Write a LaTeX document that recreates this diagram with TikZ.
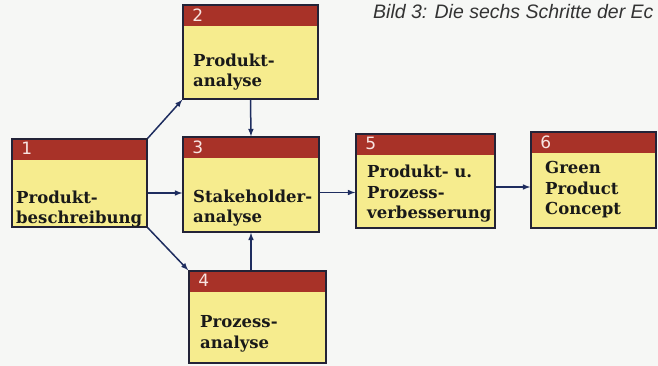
\documentclass[tikz,border=0pt]{standalone}
\usepackage{fontspec}
\setmainfont{DejaVu Serif}
\newfontfamily\numfont{DejaVu Sans}
\newfontfamily\capfont{Liberation Sans}
\usetikzlibrary{calc}
\tikzset{>=latex}
\definecolor{Paper}{RGB}{246,247,245}
\definecolor{HeadRed}{RGB}{168,50,40}
\definecolor{BoxBody}{RGB}{246,236,142}
\definecolor{BoxLine}{RGB}{35,35,55}
\definecolor{FlowBlue}{RGB}{30,45,95}
\definecolor{NumWhite}{RGB}{248,228,225}
\tikzset{
  stepbox/.style={draw=BoxLine, line width=1.5pt, fill=BoxBody, inner sep=0pt,
    path picture={\fill[HeadRed] (path picture bounding box.north west) rectangle ([yshift=-21pt]path picture bounding box.north east);}},
  numlabel/.style={anchor=north west, inner sep=0pt, text=NumWhite, font=\numfont\fontsize{17}{17}\selectfont, xshift=10pt, yshift=-4pt},
  steptext/.style={anchor=west, align=left, inner sep=0pt, text=black!90, font=\bfseries\fontsize{16.5}{20.5}\selectfont},
  flow/.style={->, draw=FlowBlue, line width=1.5pt}
}
\begin{document}
\begin{tikzpicture}[x=1pt,y=-1pt]
  \fill[Paper] (0,0) rectangle (658,366);
  \useasboundingbox (0,0) rectangle (658,366);
  % caption
  \node[anchor=base west, inner sep=0pt, text=black!80, font=\capfont\itshape\fontsize{19.5}{19.5}\selectfont] (cap) at (373,19) {Bild 3: Die sechs Schritte der Ec};
  % boxes
  \node[stepbox, minimum width=135pt, minimum height=88pt, label={[numlabel]north west:1}] (b1) at (79.5,183) {};
  \node[stepbox, minimum width=135pt, minimum height=94pt, label={[numlabel]north west:2}] (b2) at (250.5,52) {};
  \node[stepbox, minimum width=136pt, minimum height=95pt, label={[numlabel]north west:3}] (b3) at (251,184.5) {};
  \node[stepbox, minimum width=137pt, minimum height=92pt, label={[numlabel]north west:4}] (b4) at (257.5,317) {};
  \node[stepbox, minimum width=139pt, minimum height=94pt, label={[numlabel]north west:5}] (b5) at (425.5,181) {};
  \node[stepbox, minimum width=125pt, minimum height=96pt, label={[numlabel]north west:6}] (b6) at (593.5,180) {};
  % texts
  \node[steptext] (t1) at (16,209) {Produkt-\\beschreibung};
  \node[steptext] (t2) at (193,72) {Produkt-\\analyse};
  \node[steptext] (t3) at (193,208) {Stakeholder-\\analyse};
  \node[steptext] (t4) at (200,334) {Prozess-\\analyse};
  \node[steptext] (t5) at (367,194) {Produkt- u.\\Prozess-\\verbesserung};
  \node[steptext] (t6) at (545,190) {Green\\Product\\Concept};
  % arrows
  \draw[flow] (b1.north east) -- (b2.south west);
  \draw[flow] ([yshift=-10pt]b1.east) -- ([yshift=-10pt]b1.east -| b3.west);
  \draw[flow] (b1.south east) -- (b4.north west);
  \draw[flow] (b2.south) -- (b3.north);
  \draw[flow] (b4.north -| b3.south) -- (b3.south);
  \draw[flow] ([yshift=-8pt]b3.east) -- ([yshift=-8pt]b3.east -| b5.west);
  \draw[flow] ([yshift=-6pt]b5.east) -- ([yshift=-6pt]b5.east -| b6.west);
\end{tikzpicture}
\end{document}
